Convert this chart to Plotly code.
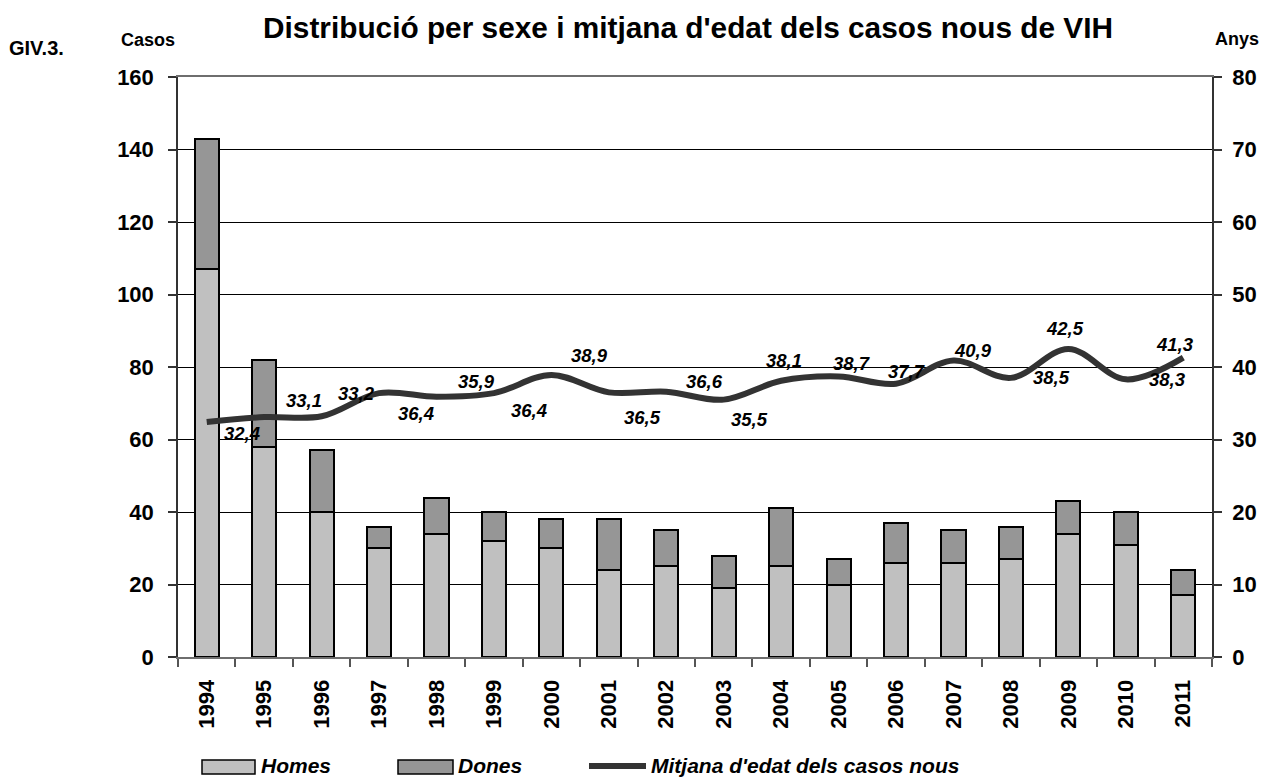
import plotly.graph_objects as go

# ---------------- data ----------------
years = ["1994", "1995", "1996", "1997", "1998", "1999", "2000", "2001", "2002",
         "2003", "2004", "2005", "2006", "2007", "2008", "2009", "2010", "2011"]
homes = [107, 58, 40, 30, 34, 32, 30, 24, 25, 19, 25, 20, 26, 26, 27, 34, 31, 17]
dones = [36, 24, 17, 6, 10, 8, 8, 14, 10, 9, 16, 7, 11, 9, 9, 9, 9, 7]
mitjana = [32.4, 33.1, 33.2, 36.4, 35.9, 36.4, 38.9, 36.5, 36.6, 35.5, 38.1,
           38.7, 37.7, 40.9, 38.5, 42.5, 38.3, 41.3]
left_ticks = [0, 20, 40, 60, 80, 100, 120, 140, 160]
right_ticks = [0, 10, 20, 30, 40, 50, 60, 70, 80]

# label placement (pixel offsets of the data labels, screen coords: dx right, dy down)
label_dx = [35, 40, 35, 37, 40, 35, 38, 34, 38, 26, 3, 13, 11, 19, 41, -3, 42, -8]
label_dy = [11, -17, -23, 20, -15, 17, -19, 25, -10, 20, -20, -13, -12, -10, 0, -20, 0, -13]

# ---------------- styling ----------------
W, H = 1262, 778
L, R, T, B = 178, 50, 77, 121
FONT = "Liberation Sans, Arial, sans-serif"
C_HOMES = "#C0C0C0"
C_DONES = "#969696"
C_LINE = "#333333"


def px(x):
    return (x - L) / (W - L - R)


def py(y):
    return (H - B - y) / (H - T - B)


fig = go.Figure()
fig.add_trace(go.Bar(x=years, y=homes, name="Homes", width=0.42,
                     marker=dict(color=C_HOMES, line=dict(color="#000000", width=2)),
                     showlegend=False))
fig.add_trace(go.Bar(x=years, y=dones, name="Dones", width=0.42,
                     marker=dict(color=C_DONES, line=dict(color="#000000", width=2)),
                     showlegend=False))
fig.add_trace(go.Scatter(x=years, y=mitjana, name="Mitjana d'edat dels casos nous",
                         yaxis="y2", mode="lines",
                         line=dict(color=C_LINE, width=6, shape="spline", smoothing=1.0),
                         showlegend=False))

annotations = []
for i, (v, dx, dy) in enumerate(zip(mitjana, label_dx, label_dy)):
    annotations.append(dict(x=i, y=v, xref="x", yref="y2",
                            text=f"{v:.1f}".replace(".", ","), showarrow=False,
                            xshift=dx, yshift=-dy,
                            font=dict(family=FONT, size=18.5, color="#000000",
                                      weight="bold", style="italic")))

# header texts
annotations += [
    dict(x=px(7), y=py(48), xref="paper", yref="paper", xanchor="left", yanchor="middle",
         text="GIV.3.", showarrow=False,
         font=dict(family=FONT, size=20, color="#000000", weight="bold")),
    dict(x=px(119), y=py(40), xref="paper", yref="paper", xanchor="left", yanchor="middle",
         text="Casos", showarrow=False,
         font=dict(family=FONT, size=18, color="#000000", weight="bold")),
    dict(x=px(1213), y=py(39), xref="paper", yref="paper", xanchor="left", yanchor="middle",
         text="Anys", showarrow=False,
         font=dict(family=FONT, size=18, color="#000000", weight="bold")),
]

# custom legend
leg_font = dict(family=FONT, size=21, color="#000000", weight="bold", style="italic")
for x0, txt in [(259, "Homes"), (456, "Dones"), (649, "Mitjana d'edat dels casos nous")]:
    annotations.append(dict(x=px(x0), y=py(765), xref="paper", yref="paper",
                            xanchor="left", yanchor="middle", text=txt,
                            showarrow=False, font=leg_font))

shapes = [
    dict(type="rect", xref="paper", yref="paper", x0=px(202), x1=px(255),
         y0=py(774), y1=py(760), fillcolor=C_HOMES, line=dict(color="#000000", width=1.5)),
    dict(type="rect", xref="paper", yref="paper", x0=px(398), x1=px(453),
         y0=py(774), y1=py(760), fillcolor=C_DONES, line=dict(color="#000000", width=1.5)),
    dict(type="line", xref="paper", yref="paper", x0=px(589), x1=px(646),
         y0=py(766), y1=py(766), line=dict(color=C_LINE, width=6)),
]

tickfont = dict(family=FONT, size=22, color="#000000", weight="bold")

fig.update_layout(
    width=W, height=H, autosize=False,
    margin=dict(l=L, r=R, t=T, b=B, pad=0),
    paper_bgcolor="#FFFFFF", plot_bgcolor="#FFFFFF",
    barmode="stack",
    title=dict(text="Distribució per sexe i mitjana d'edat dels casos nous de VIH",
               x=688 / W, xref="container", xanchor="center",
               y=1 - 28 / H, yref="container", yanchor="middle",
               font=dict(family=FONT, size=29.8, color="#000000", weight="bold")),
    xaxis=dict(type="category", range=[-0.5, len(years) - 0.5], automargin=False,
               tickson="boundaries", ticks="outside", ticklen=8,
               tickcolor="#555555", tickwidth=1.5, tickangle=-90, tickfont=tickfont,
               showgrid=False, showline=True, linecolor="#6e6e6e", linewidth=2,
               mirror=True, ticklabelstandoff=12),
    yaxis=dict(range=[0, 160], tickvals=left_ticks, ticks="outside", ticklen=8,
               automargin=False,
               tickcolor="#333333", tickwidth=1.5, tickfont=tickfont,
               showgrid=True, gridcolor="#000000", gridwidth=1, zeroline=False,
               showline=True, linecolor="#333333", linewidth=1.5,
               ticklabelstandoff=10),
    yaxis2=dict(range=[0, 80], tickvals=right_ticks, overlaying="y", side="right",
                automargin=False,
                ticks="outside", ticklen=8, tickcolor="#333333", tickwidth=1.5,
                tickfont=tickfont, showgrid=False, zeroline=False,
                showline=True, linecolor="#333333", linewidth=1.5,
                ticklabelstandoff=6),
    annotations=annotations,
    shapes=shapes,
)

fig.write_html("out.html", config={"displayModeBar": False},
               post_script="document.body.style.margin='0';")
